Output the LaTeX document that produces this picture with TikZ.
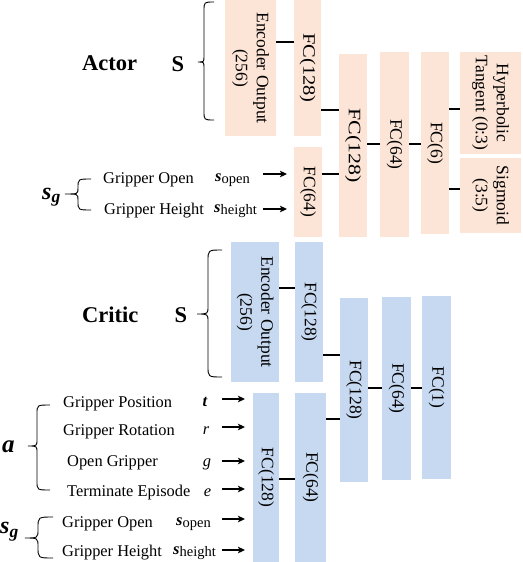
\documentclass[tikz,border=0pt]{standalone}
\usepackage{fontspec}
\setmainfont{Liberation Serif}
\usetikzlibrary{arrows.meta}
\definecolor{actorfill}{HTML}{FCE4D6}
\definecolor{criticfill}{HTML}{C6D9F1}
\newcommand{\drawbrc}[8]{%
 \draw[brc] (#3,#4) .. controls (#2,#4) .. (#2,#4+#7) -- (#2,#5-#8) .. controls (#2,#5) .. (#1,#5) .. controls (#2,#5) .. (#2,#5+#8) -- (#2,#6-#7) .. controls (#2,#6) .. (#3,#6);}
\newcommand{\rtxt}[1]{\rotatebox{-90}{\begin{tabular}{@{}c@{}}#1\end{tabular}}}
\begin{document}
\begin{tikzpicture}[x=1pt,y=-1pt,
  box/.style={inner sep=0pt, outer sep=0pt, anchor=north west, font=\fontsize{17.5}{21}\selectfont},
  abox/.style={box, fill=actorfill},
  cbox/.style={box, fill=criticfill},
  conn/.style={line width=2.6pt, black},
  arr/.style={line width=1.3pt, -{Stealth[length=7pt,width=6.5pt,inset=1.5pt]}},
  brc/.style={line width=0.9pt},
  lbl/.style={inner sep=0pt, anchor=base west, font=\fontsize{16.4}{19}\selectfont},
  sym/.style={inner sep=0pt, anchor=base, font=\fontsize{16.4}{19}\selectfont},
  ttl/.style={inner sep=0pt, anchor=base west, font=\fontsize{22.5}{26}\selectfont\bfseries},
  bigS/.style={inner sep=0pt, anchor=base, font=\fontsize{22.5}{26}\selectfont\bfseries}]
\useasboundingbox (0,0) rectangle (522,562);

% ---------------- Actor ----------------
\node[abox, minimum width=51, minimum height=136] (aenc) at (225,0) {\rtxt{Encoder Output\\(256)}};
\node[abox, minimum width=27, minimum height=136] (afc1) at (294,0) {\rotatebox{-90}{\scalebox{1.17}[1]{FC(128)}}};
\node[abox, minimum width=28, minimum height=90] (afc64) at (294,147) {\rotatebox{-90}{FC(64)}};
\node[abox, minimum width=28, minimum height=183] (afc2) at (339,54) {\rotatebox{-90}{\scalebox{1.25}[1]{FC(128)}}};
\node[abox, minimum width=29, minimum height=185] (afc3) at (380,52) {\rotatebox{-90}{FC(64)}};
\node[abox, minimum width=28, minimum height=182] (afc6) at (421,52) {\rotatebox{-90}{FC(6)}};
\node[abox, minimum width=61, minimum height=102] (atanh) at (460,52) {\rtxt{Hyperbolic\\Tangent (0:3)}};
\node[abox, minimum width=61, minimum height=75] (asig) at (460,158) {\rtxt{Sigmoid\\(3:5)}};

\draw[conn] (aenc.east |- 0,42) -- (afc1.west |- 0,42);
\draw[conn] (afc1.east |- 0,110) -- (afc2.west |- 0,110);
\draw[conn] (afc64.east |- 0,174) -- (afc2.west |- 0,174);
\draw[conn] (afc2.east |- 0,144) -- (afc3.west |- 0,144);
\draw[conn] (afc3.east |- 0,144) -- (afc6.west |- 0,144);
\draw[conn] (afc6.east |- 0,109) -- (atanh.west |- 0,109);
\draw[conn] (afc6.east |- 0,189) -- (asig.west |- 0,189);

\node[ttl] (actor) at (82,70) {Actor};
\node[bigS] (aS) at (178,71) {S};
\drawbrc{198}{204}{214}{2}{62}{120}{9}{6}
\node[inner sep=0pt, anchor=base west] (asg) at (42,199) {{\fontsize{24}{26}\selectfont\bfseries\itshape s}\raisebox{-3.5pt}{\fontsize{17.5}{19}\selectfont\bfseries\itshape g}};
\drawbrc{65}{78}{91}{179}{194}{210}{9}{6}
\node[lbl] (ago) at (103,183) {Gripper Open};
\node[lbl] (agh) at (104,214) {Gripper Height};
\node[lbl] (aso) at (215,181) {{\bfseries\itshape s}\raisebox{-2.5pt}{\fontsize{14.5}{17}\selectfont open}};
\node[lbl] (ash) at (214,212) {{\bfseries\itshape s}\raisebox{-2.5pt}{\fontsize{14.5}{17}\selectfont height}};
\coordinate (aa1) at (263,174);
\coordinate (aa2) at (263,209);
\draw[arr, shorten >=7pt] (aa1) -- (afc64.west |- aa1);
\draw[arr, shorten >=7pt] (aa2) -- (afc64.west |- aa2);

% ---------------- Critic ----------------
\node[cbox, minimum width=48, minimum height=140] (cenc) at (231,242) {\rtxt{Encoder Output\\(256)}};
\node[cbox, minimum width=28, minimum height=140] (cfc1) at (295,242) {\rotatebox{-90}{FC(128)}};
\node[cbox, minimum width=28, minimum height=184] (cfc2) at (340,298) {\rotatebox{-90}{FC(128)}};
\node[cbox, minimum width=29, minimum height=183] (cfc3) at (382,297) {\rotatebox{-90}{FC(64)}};
\node[cbox, minimum width=29, minimum height=183] (cfc4) at (422,296) {\rotatebox{-90}{FC(1)}};
\node[cbox, minimum width=26, minimum height=169] (cfl1) at (253,393) {\rotatebox{-90}{FC(128)}};
\node[cbox, minimum width=31, minimum height=169] (cfl2) at (295,393) {\rotatebox{-90}{FC(64)}};

\draw[conn] (cenc.east |- 0,288) -- (cfc1.west |- 0,288);
\draw[conn] (cfc1.east |- 0,355) -- (cfc2.west |- 0,355);
\draw[conn] (cfl2.east |- 0,419) -- (cfc2.west |- 0,419);
\draw[conn] (cfc2.east |- 0,388) -- (cfc3.west |- 0,388);
\draw[conn] (cfc3.east |- 0,388) -- (cfc4.west |- 0,388);
\draw[conn] (cfl1.east |- 0,479) -- (cfl2.west |- 0,479);

\node[ttl] (critic) at (82,322) {Critic};
\node[bigS] (cS) at (181,322) {S};
\drawbrc{197}{208}{222}{250}{314}{377}{11}{8}
\node[inner sep=0pt, anchor=base west, font=\fontsize{25}{26}\selectfont\bfseries\itshape] (ca) at (2,452) {a};
\drawbrc{28}{37}{50}{405}{446}{490}{9}{7}
\node[inner sep=0pt, anchor=base west] (csg) at (0,533) {{\fontsize{24}{26}\selectfont\bfseries\itshape s}\raisebox{-4pt}{\fontsize{17.5}{19}\selectfont\bfseries\itshape g}};
\drawbrc{25}{38}{53}{517}{538}{558}{11}{9}

\node[lbl] (cgp) at (63,407) {Gripper Position};
\node[lbl] (cgr) at (63,435) {Gripper Rotation};
\node[lbl] (cog) at (67,466) {Open Gripper};
\node[lbl] (cte) at (67,496) {Terminate Episode};
\node[lbl] (cgo) at (62,527) {Gripper Open};
\node[lbl] (cgh) at (62,556) {Gripper Height};
\node[sym] (ct) at (205,406) {\bfseries\itshape t};
\node[sym] (cr) at (206,434) {\itshape r};
\node[sym] (cg) at (207,466) {\itshape g};
\node[sym] (ce) at (207.5,496) {\itshape e};
\node[lbl] (cso) at (176,525) {{\bfseries\itshape s}\raisebox{-2.5pt}{\fontsize{14.5}{17}\selectfont open}};
\node[lbl] (csh) at (173,554) {{\bfseries\itshape s}\raisebox{-2.5pt}{\fontsize{14.5}{17}\selectfont height}};

\coordinate (ca1) at (222,399);
\coordinate (ca2) at (222,427);
\coordinate (ca3) at (222,461);
\coordinate (ca4) at (222,489);
\coordinate (ca5) at (222,519);
\coordinate (ca6) at (222,550);
\foreach \c in {ca1,ca2,ca3,ca4,ca5,ca6}
  \draw[arr, shorten >=8pt] (\c) -- (cfl1.west |- \c);
\end{tikzpicture}
\end{document}
